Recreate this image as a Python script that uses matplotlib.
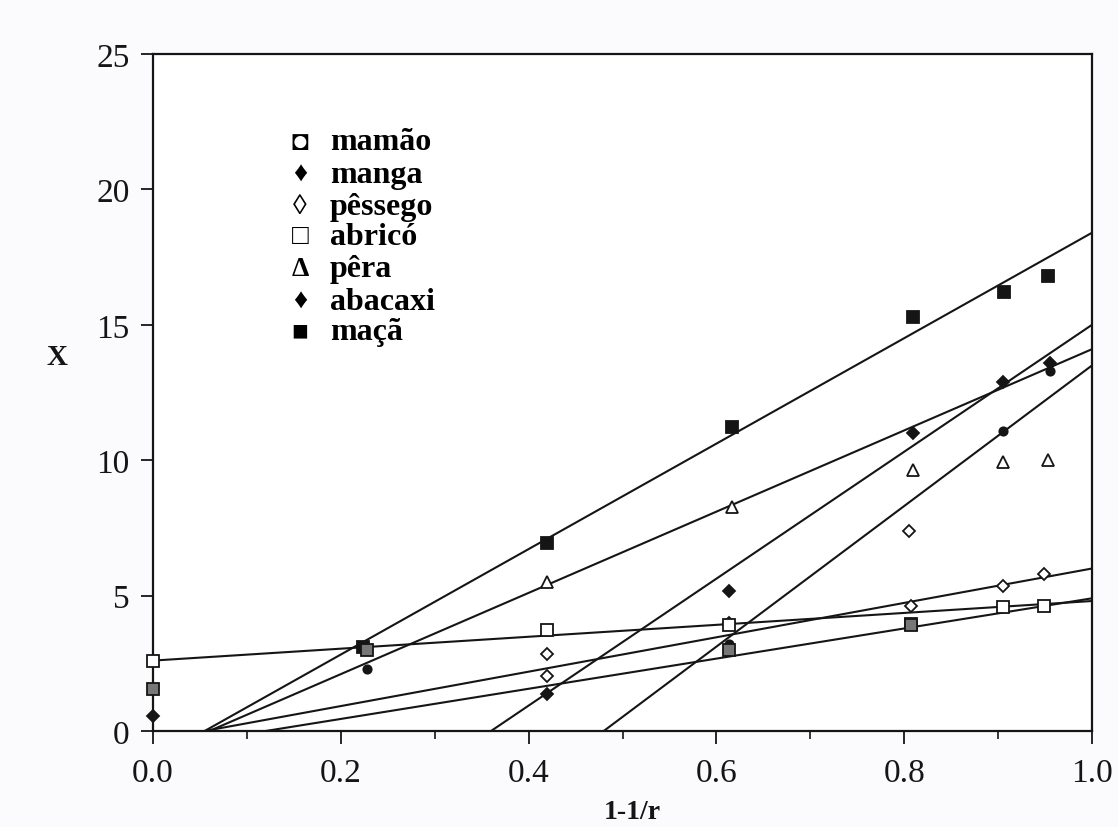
import matplotlib
matplotlib.use("Agg")
import matplotlib.pyplot as plt
from matplotlib.ticker import MultipleLocator, FormatStrFormatter

plt.rcParams['font.family'] = ['Liberation Serif', 'DejaVu Serif']

# points (x = 1-1/r, y = X)
maca_x = [0.224, 0.42, 0.617, 0.809, 0.906, 0.953]
maca_y = [3.1, 6.95, 11.24, 15.27, 16.2, 16.8]
maca_fit_x = [0.055, 1.0]
maca_fit_y = [0.0, 18.4]

pera_x = [0.42, 0.617, 0.809, 0.905, 0.953]
pera_y = [5.5, 8.28, 9.65, 9.95, 10.0]
pera_fit_x = [0.06, 1.0]
pera_fit_y = [0.0, 14.1]

manga_x = [0.0, 0.42, 0.613, 0.809, 0.905, 0.955]
manga_y = [0.55, 1.37, 5.18, 11.0, 12.9, 13.6]
manga_fit_x = [0.36, 1.0]
manga_fit_y = [0.0, 15.0]

abacaxi_x = [0.228, 0.613, 0.905, 0.955]
abacaxi_y = [2.3, 3.2, 11.06, 13.3]
abacaxi_fit_x = [0.48, 1.0]
abacaxi_fit_y = [0.0, 13.5]

pessego_x = [0.42, 0.42, 0.613, 0.805, 0.807, 0.905, 0.949]
pessego_y = [2.03, 2.85, 4.0, 7.4, 4.62, 5.36, 5.8]
pessego_fit_x = [0.055, 1.0]
pessego_fit_y = [0.0, 6.0]

abrico_x = [0.0, 0.42, 0.613, 0.807, 0.905, 0.949]
abrico_y = [2.6, 3.73, 3.9, 3.96, 4.58, 4.62]
abrico_fit_x = [0.0, 1.0]
abrico_fit_y = [2.6, 4.8]

mamao_x = [0.0, 0.228, 0.613, 0.807]
mamao_y = [1.55, 3.0, 3.0, 3.9]
mamao_fit_x = [0.12, 1.0]
mamao_fit_y = [0.0, 4.9]

legend_symbols = ['\u25d8', '\u2666', '\u25ca', '\u25a1', '\u0394', '\u2666', '\u25a0']
legend_names = ['mamão', 'manga', 'pêssego', 'abricó', 'pêra', 'abacaxi', 'maçã']

W, H = 1118, 828
fig = plt.figure(figsize=(W / 100, H / 100), dpi=100)
fig.patch.set_facecolor('#fbfbfd')
ax = fig.add_axes([153 / W, 1 - 732 / H, (1092 - 153) / W, (732 - 55) / H])
ax.set_facecolor('white')

ink = '#151515'
series = [
    (maca_x, maca_y, maca_fit_x, maca_fit_y, dict(marker='s', ms=8, mfc=ink)),
    (pera_x, pera_y, pera_fit_x, pera_fit_y, dict(marker='^', ms=8, mfc='white')),
    (manga_x, manga_y, manga_fit_x, manga_fit_y, dict(marker='D', ms=6, mfc=ink)),
    (abacaxi_x, abacaxi_y, abacaxi_fit_x, abacaxi_fit_y, dict(marker='o', ms=6, mfc=ink)),
    (pessego_x, pessego_y, pessego_fit_x, pessego_fit_y, dict(marker='D', ms=6, mfc='white')),
    (abrico_x, abrico_y, abrico_fit_x, abrico_fit_y, dict(marker='s', ms=8, mfc='white')),
    (mamao_x, mamao_y, mamao_fit_x, mamao_fit_y, dict(marker='s', ms=8, mfc='#777777')),
]
for px, py, fx, fy, mk in series:
    ax.plot(fx, fy, color=ink, lw=1.5, zorder=2)
    ax.plot(px, py, linestyle='none', mec=ink, mew=1.3, clip_on=False, zorder=3, **mk)

ax.set_xlim(0, 1.0)
ax.set_ylim(0, 25)
ax.xaxis.set_major_locator(MultipleLocator(0.2))
ax.xaxis.set_minor_locator(MultipleLocator(0.1))
ax.yaxis.set_major_locator(MultipleLocator(5))
ax.xaxis.set_major_formatter(FormatStrFormatter('%.1f'))
ax.tick_params(axis='both', which='major', direction='out', length=9, width=1.3,
               labelsize=24, colors=ink)
ax.tick_params(axis='x', which='major', pad=10)
ax.tick_params(axis='y', which='major', pad=8)
ax.tick_params(axis='x', which='minor', direction='out', length=6, width=1.2, colors=ink)
for s in ax.spines.values():
    s.set_color(ink)
    s.set_linewidth(1.6)

fig.text(632 / W, 1 - 813 / H, '1-1/r', ha='center', va='center',
         fontsize=20, fontweight='bold', color=ink)
fig.text(57 / W, 1 - 358 / H, 'X', ha='center', va='center',
         fontsize=21, fontweight='bold', color=ink)

row_y = [143, 175, 207, 238, 270, 302, 333]
for sym, name, yy in zip(legend_symbols, legend_names, row_y):
    fig.text(300 / W, 1 - yy / H, sym, ha='center', va='center',
             fontsize=20, fontweight='bold', color='black')
    fig.text(330 / W, 1 - yy / H, name, ha='left', va='center',
             fontsize=23, fontweight='bold', color='black')

fig.savefig('out.png', dpi=100)
